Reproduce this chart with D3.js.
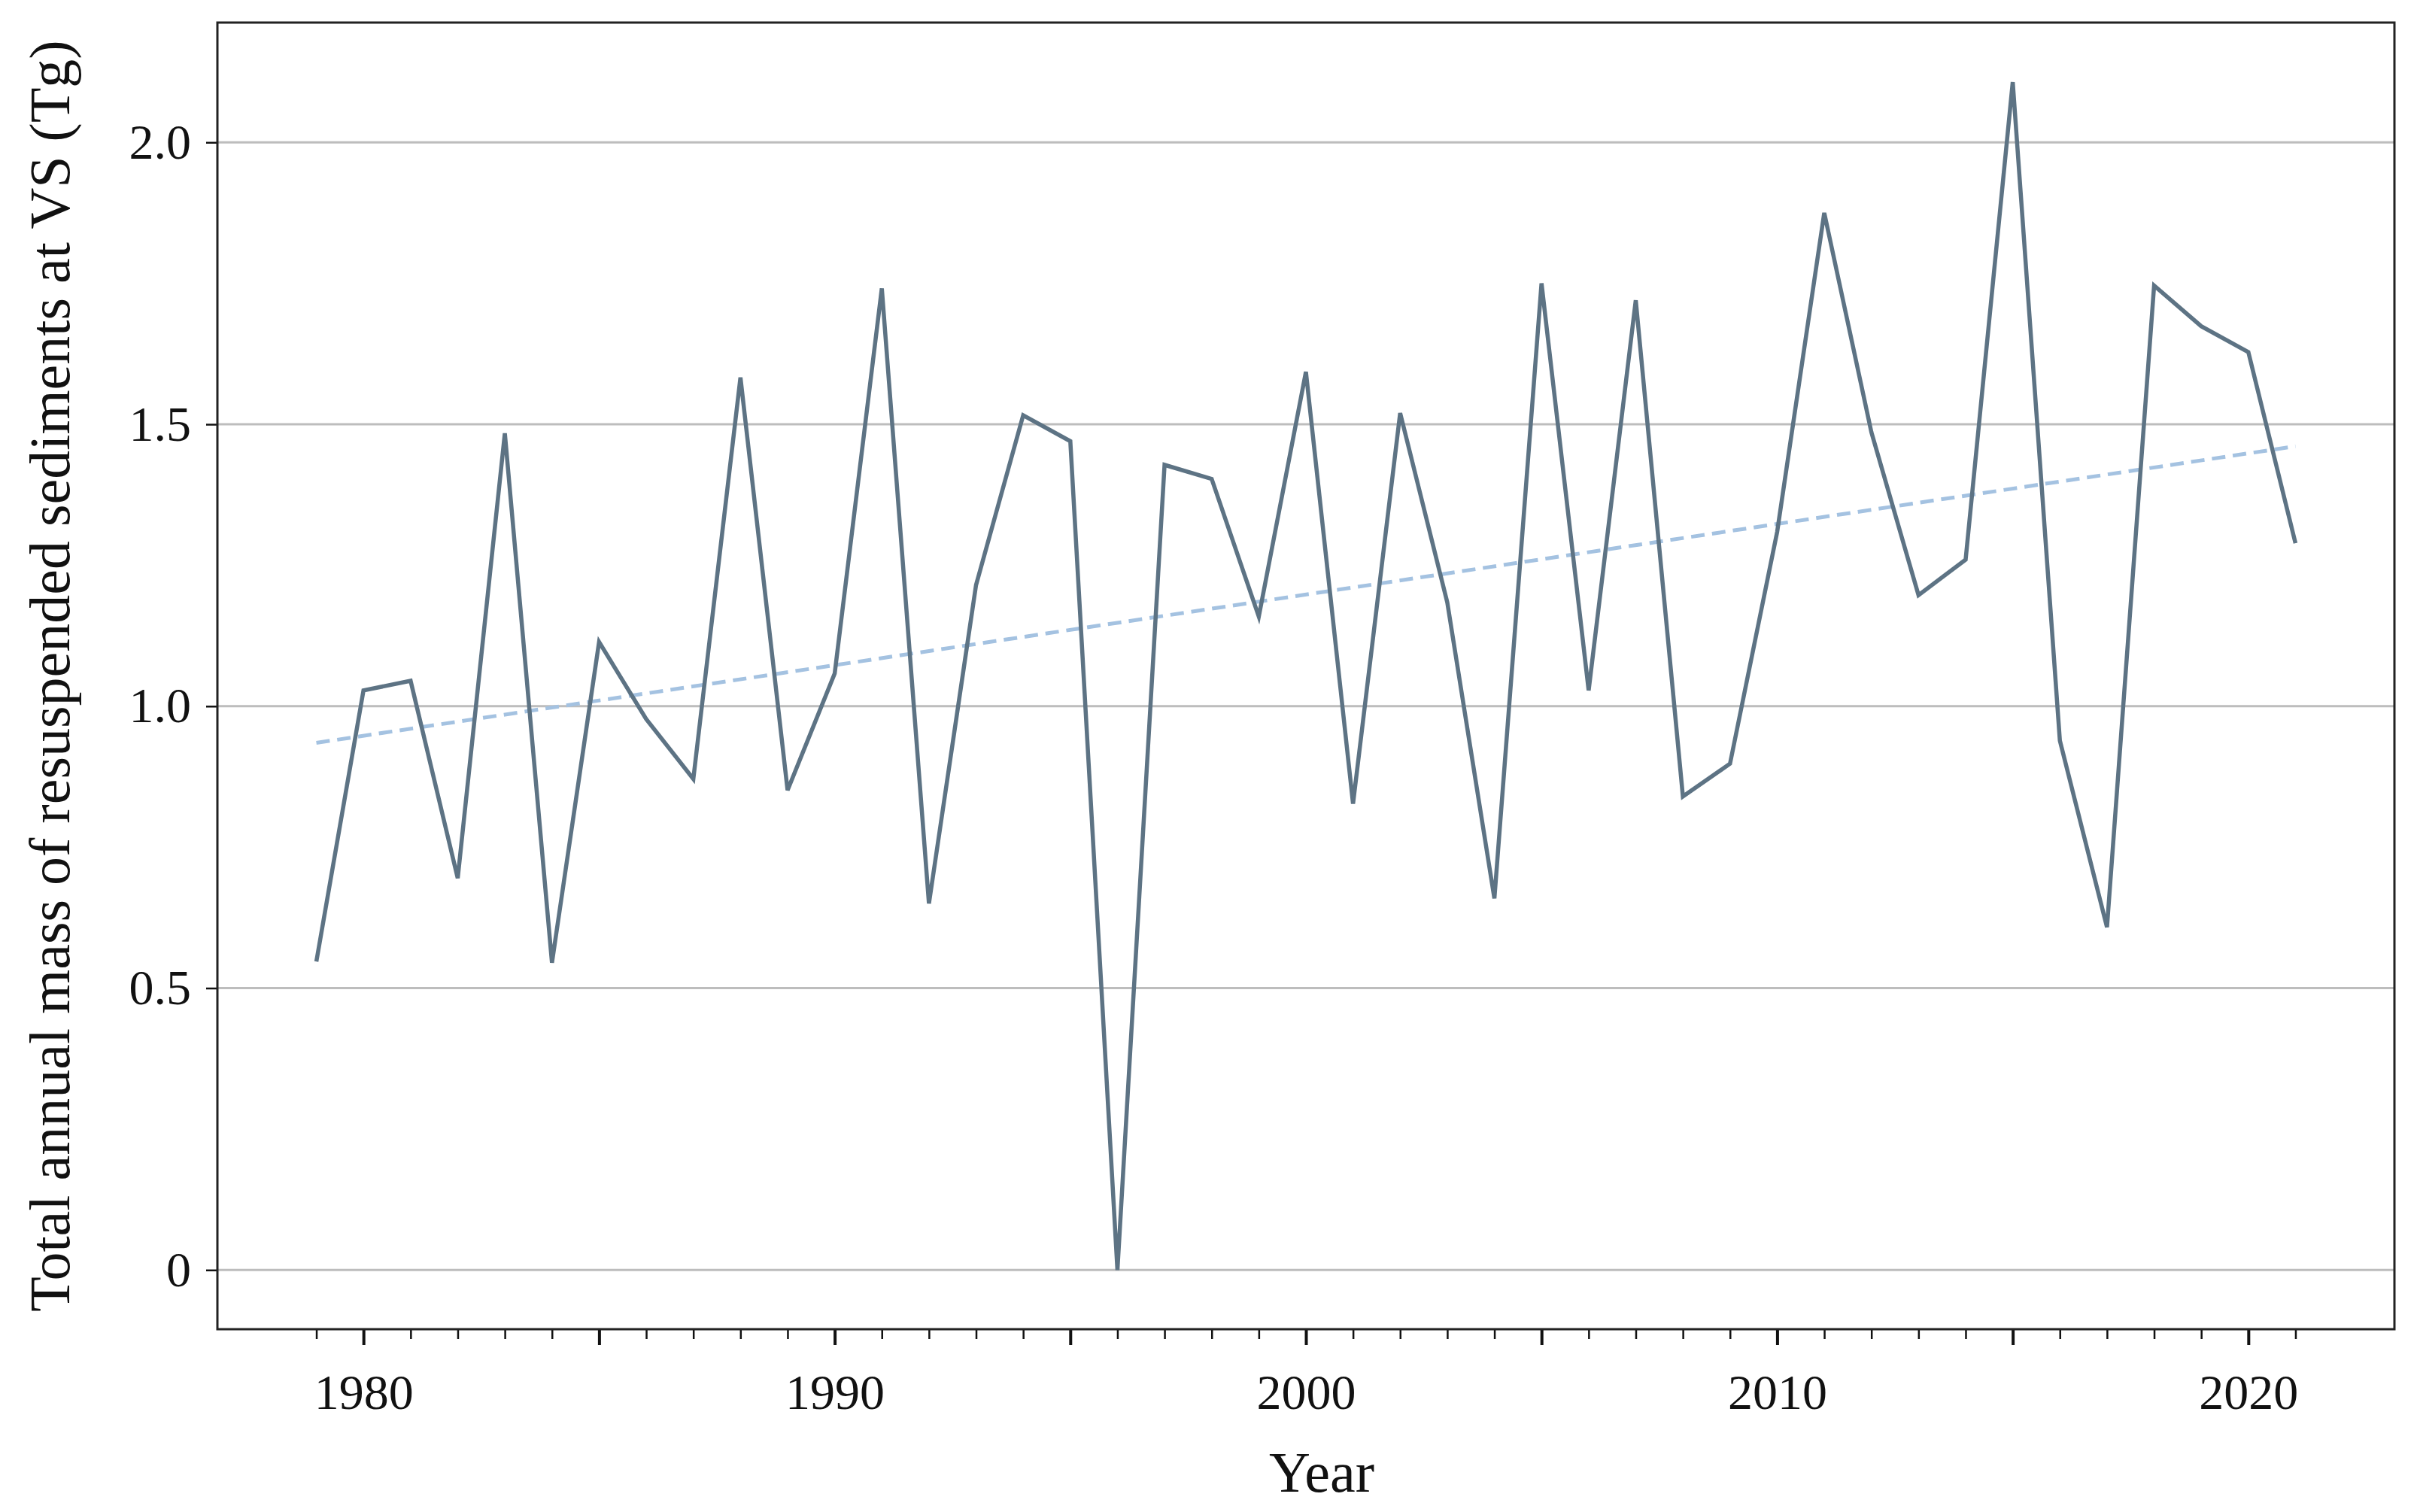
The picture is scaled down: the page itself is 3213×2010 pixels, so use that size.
<!DOCTYPE html>
<html>
<head>
<meta charset="utf-8">
<script src="https://cdn.jsdelivr.net/npm/d3@7"></script>
<style>
  html, body { margin: 0; padding: 0; background: #fff; }
  svg { display: block; }
  text { font-family: "Liberation Serif", "DejaVu Serif", serif; fill: #111; }
</style>
</head>
<body>
<svg id="chart" width="3213" height="2010"></svg>
<script>
// ---- data ----
const years = [1979,1980,1981,1982,1983,1984,1985,1986,1987,1988,1989,1990,1991,1992,1993,1994,1995,1996,1997,1998,1999,2000,2001,2002,2003,2004,2005,2006,2007,2008,2009,2010,2011,2012,2013,2014,2015,2016,2017,2018,2019,2020,2021];
const mass = [0.547,1.028,1.045,0.695,1.484,0.545,1.114,0.977,0.871,1.583,0.851,1.058,1.741,0.650,1.215,1.516,1.470,0.0,1.428,1.403,1.159,1.593,0.827,1.520,1.184,0.659,1.750,1.028,1.720,0.840,0.898,1.309,1.875,1.486,1.197,1.260,2.107,0.939,0.608,1.746,1.674,1.628,1.289];
const trendYears = [1979, 2021];
const trendValues = [0.935, 1.461];
const xLabelTicks = [1980,1990,2000,2010,2020];
const xMajorTicks = [1980,1985,1990,1995,2000,2005,2010,2015,2020];
const yTicks = [0,0.5,1.0,1.5,2.0];
const yTickLabels = ["0","0.5","1.0","1.5","2.0"];
const xLabel = "Year";
const yLabel = "Total annual mass of resuspended sediments at VS (Tg)";

// ---- layout ----
const L = 289, R = 3183, T = 30, B = 1767;
const svg = d3.select("#chart");

const x = d3.scaleLinear().domain([1976.9, 2023.1]).range([L, R]);
const y = d3.scaleLinear().domain([-0.105, 2.2125]).range([B, T]);

// gridlines
svg.append("g").selectAll("line").data(yTicks).join("line")
  .attr("x1", L).attr("x2", R)
  .attr("y1", d => y(d)).attr("y2", d => y(d))
  .attr("stroke", "#bdbdbd").attr("stroke-width", 3);

// trend line
svg.append("path")
  .datum(trendYears.map((t, i) => [t, trendValues[i]]))
  .attr("d", d3.line().x(d => x(d[0])).y(d => y(d[1])))
  .attr("fill", "none").attr("stroke", "#a4c2e1").attr("stroke-width", 5)
  .attr("stroke-dasharray", "18,10");

// data line
svg.append("path")
  .datum(years.map((t, i) => [t, mass[i]]))
  .attr("d", d3.line().x(d => x(d[0])).y(d => y(d[1])))
  .attr("fill", "none").attr("stroke", "#5d7384").attr("stroke-width", 5.5)
  .attr("stroke-linejoin", "miter");

// x axis: minor ticks (every year within data range)
const minorYears = years.filter(v => !xMajorTicks.includes(v));
const xMinor = d3.axisBottom(x).tickValues(minorYears).tickSize(13).tickFormat("");
const gxm = svg.append("g").attr("transform", `translate(0,${B})`).call(xMinor);
gxm.select(".domain").remove();
gxm.selectAll(".tick line").attr("stroke", "#111").attr("stroke-width", 2.5);

// x axis: major ticks every 5 years, labels at decades
const xMajor = d3.axisBottom(x).tickValues(xMajorTicks).tickSize(21).tickPadding(38)
  .tickFormat(d => xLabelTicks.includes(d) ? d3.format("d")(d) : "");
const gx = svg.append("g").attr("transform", `translate(0,${B})`).call(xMajor);
gx.select(".domain").remove();
gx.selectAll(".tick line").attr("stroke", "#111").attr("stroke-width", 4);
gx.selectAll(".tick text").attr("font-size", 66).attr("font-family", "Liberation Serif").attr("fill", "#111")
  .attr("dy", "0.71em");

// y axis
const yAxis = d3.axisLeft(y).tickValues(yTicks).tickSize(15).tickPadding(20)
  .tickFormat((d, i) => yTickLabels[i]);
const gy = svg.append("g").attr("transform", `translate(${L},0)`).call(yAxis);
gy.select(".domain").remove();
gy.selectAll(".tick line").attr("stroke", "#111").attr("stroke-width", 2.5);
gy.selectAll(".tick text").attr("font-size", 66).attr("font-family", "Liberation Serif").attr("fill", "#111");

// frame
svg.append("rect").attr("x", L).attr("y", T).attr("width", R - L).attr("height", B - T)
  .attr("fill", "none").attr("stroke", "#222").attr("stroke-width", 3);

// axis labels
svg.append("text").attr("x", 1757).attr("y", 1983).attr("text-anchor", "middle")
  .attr("font-size", 76).text(xLabel);
svg.append("text").attr("transform", `translate(92,${(T + B) / 2}) rotate(-90)`)
  .attr("text-anchor", "middle").attr("font-size", 76).text(yLabel);
</script>
</body>
</html>
